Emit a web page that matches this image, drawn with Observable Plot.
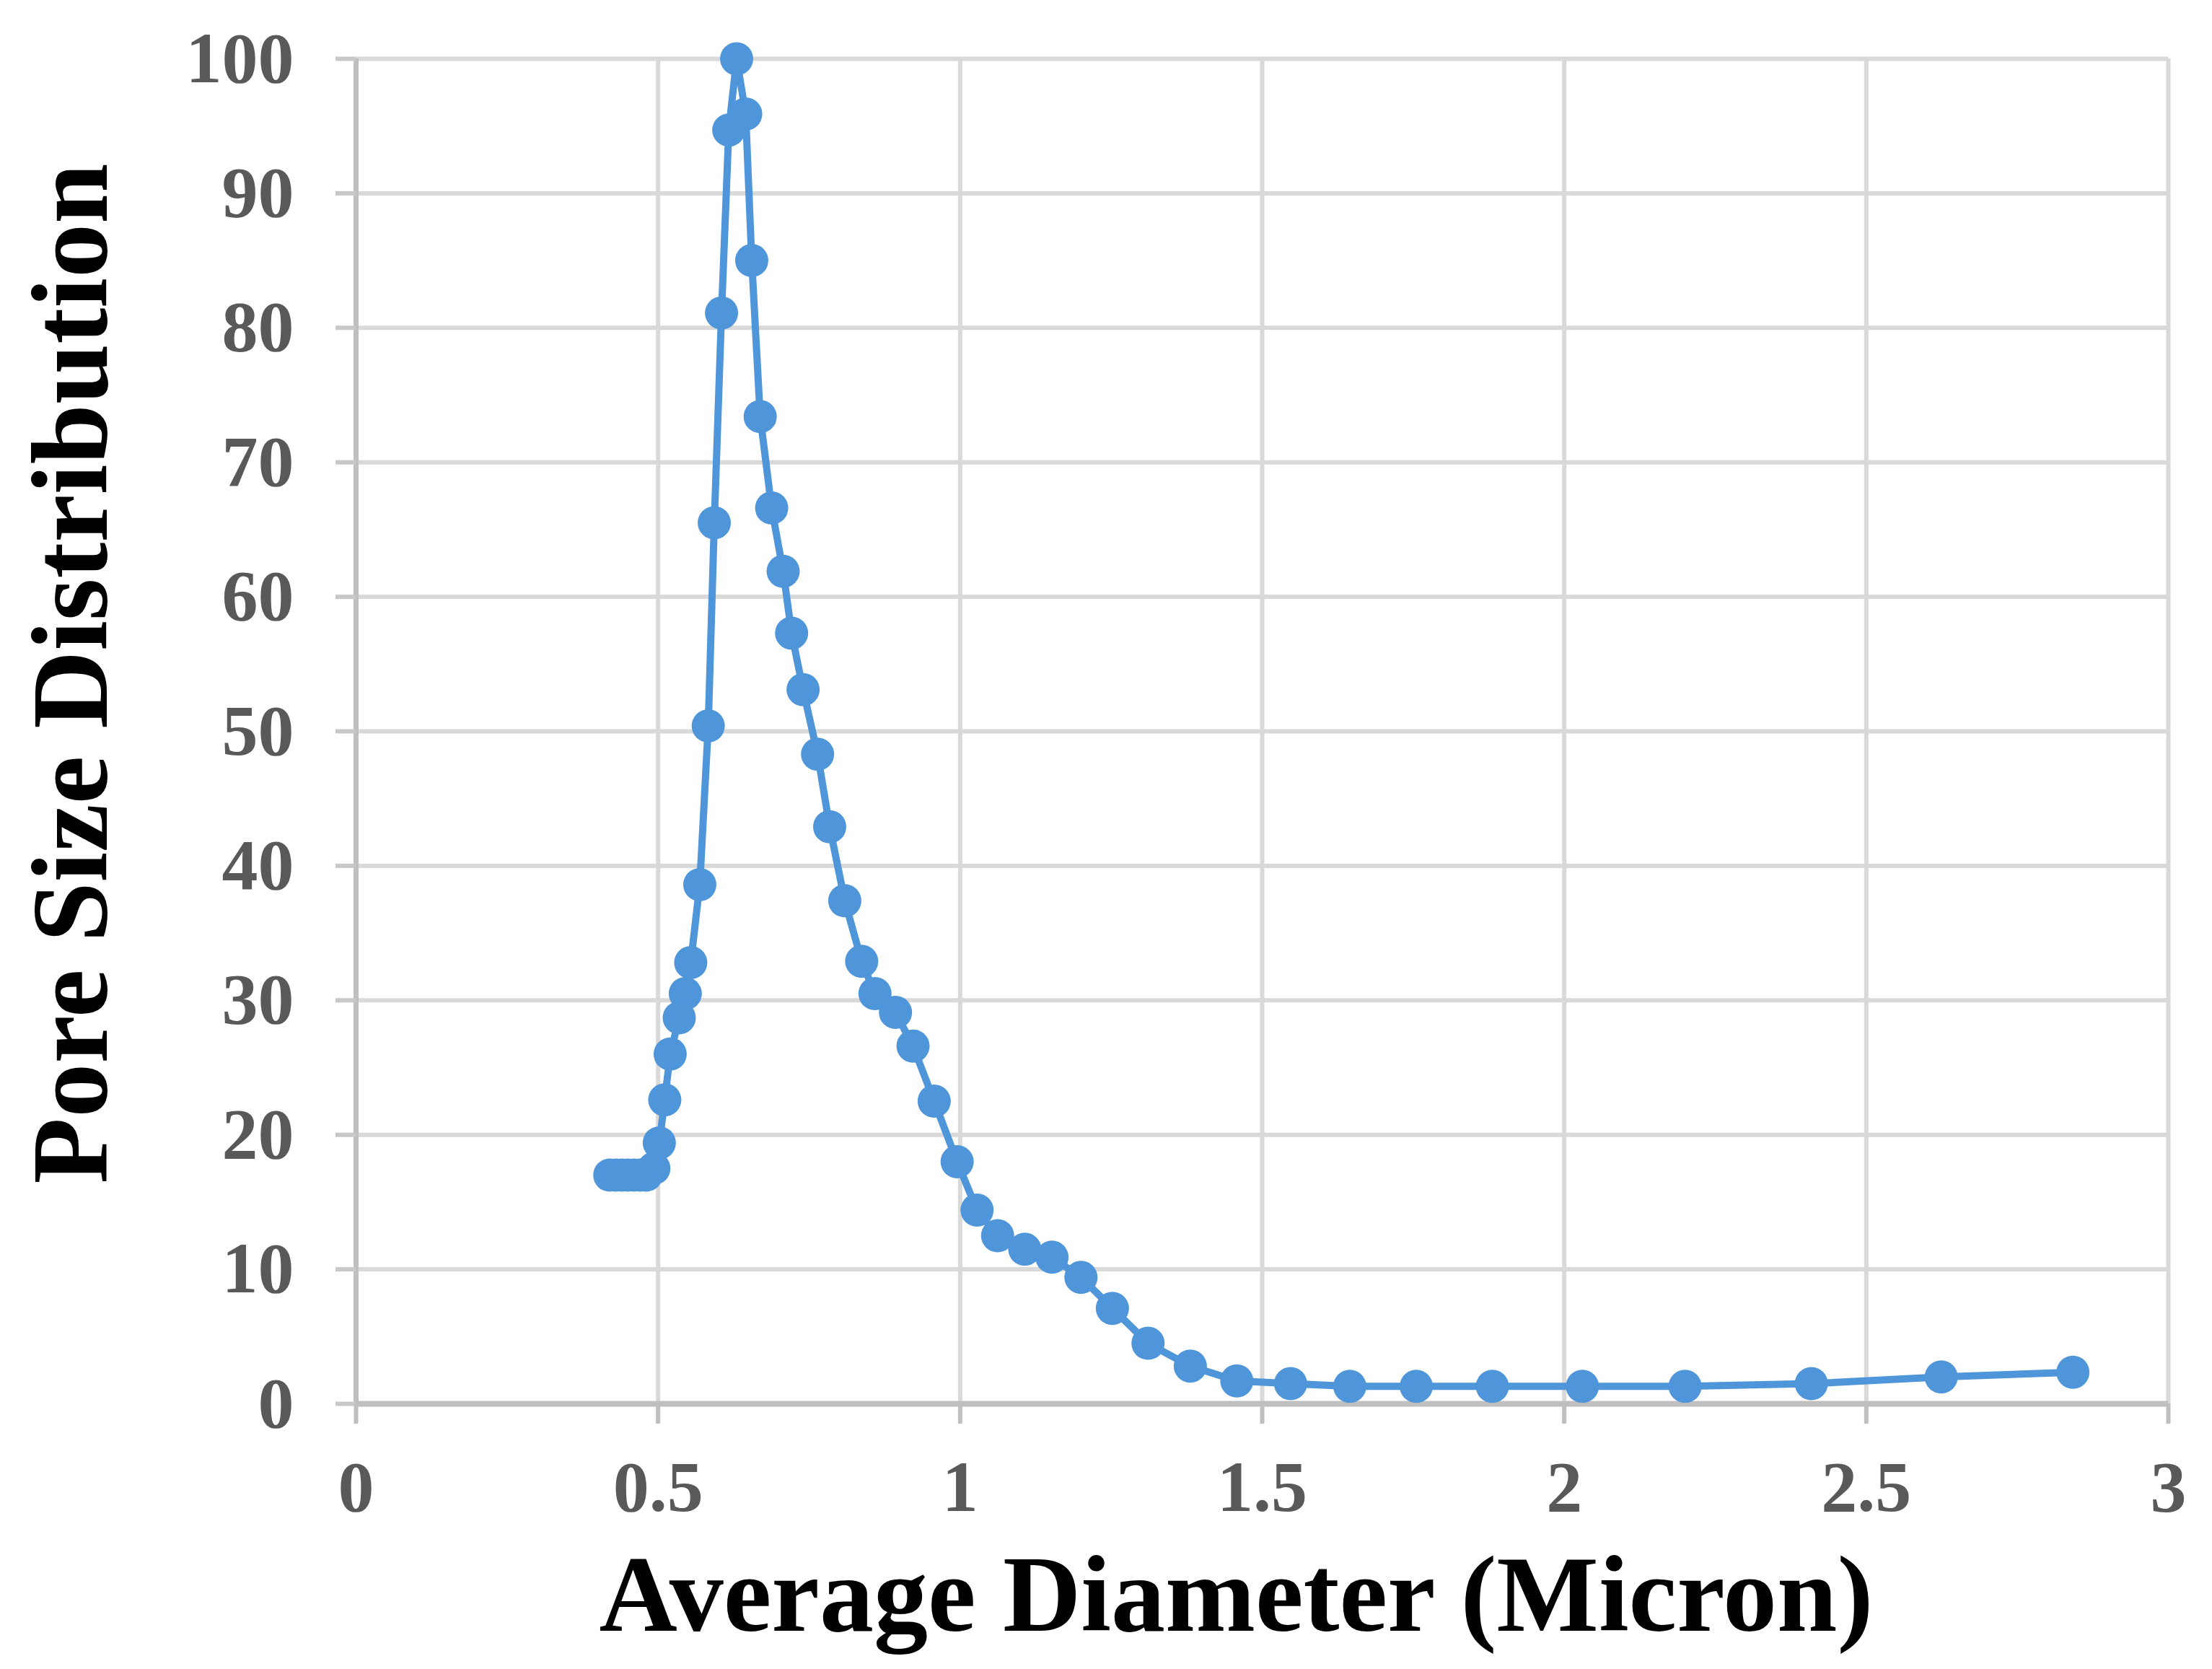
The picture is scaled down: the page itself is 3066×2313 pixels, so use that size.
<!DOCTYPE html>
<html>
<head>
<meta charset="utf-8">
<script src="https://cdn.jsdelivr.net/npm/d3@7"></script>
<script src="https://cdn.jsdelivr.net/npm/@observablehq/plot@0.6"></script>
<style>
  html, body { margin: 0; padding: 0; background: #fff; }
  #chart svg { display: block; }
</style>
</head>
<body>
<div id="chart"></div>
<script>
// Average diameter (micron)
const diameter = [
  0.420, 0.430, 0.440, 0.450, 0.460, 0.470, 0.480, 0.493,
  0.502, 0.511, 0.520, 0.535, 0.545, 0.554, 0.569, 0.583,
  0.593, 0.605, 0.617, 0.630, 0.645, 0.655, 0.669, 0.688,
  0.707, 0.721, 0.740, 0.764, 0.784, 0.809, 0.837, 0.859,
  0.893, 0.922, 0.957, 0.995, 1.028, 1.062, 1.107, 1.152,
  1.200, 1.252, 1.311, 1.381, 1.458, 1.547, 1.645, 1.755,
  1.881, 2.030, 2.200, 2.409, 2.624, 2.842
];
// Pore size distribution
const psd = [
  17.0, 17.0, 17.0, 17.0, 17.0, 17.0, 17.0, 17.5,
  19.4, 22.6, 26.0, 28.7, 30.5, 32.8, 38.6, 50.4,
  65.5, 81.1, 94.7, 100.0, 95.9, 85.0, 73.4, 66.6,
  61.9, 57.3, 53.1, 48.3, 42.9, 37.4, 32.9, 30.5,
  29.1, 26.6, 22.5, 18.0, 14.4, 12.5, 11.5, 10.9,
  9.4, 7.1, 4.5, 2.8, 1.7, 1.5, 1.3, 1.3,
  1.3, 1.3, 1.3, 1.5, 2.0, 2.35
];
const xTicks = [0, 0.5, 1, 1.5, 2, 2.5, 3];
const yTicks = [0, 10, 20, 30, 40, 50, 60, 70, 80, 90, 100];
const xTitle = "Average Diameter (Micron)";
const yTitle = "Pore Size Distribution";

const data = diameter.map((d, i) => ({x: d, y: psd[i]}));
const blue = "#4f95d9";
const serif = "Liberation Serif, Times New Roman, serif";

const chart = Plot.plot({
  width: 3066,
  height: 2313,
  marginLeft: 493,
  marginRight: 61,
  marginTop: 81,
  marginBottom: 368,
  style: {background: "white", fontFamily: serif},
  x: {domain: [0, 3], ticks: xTicks},
  y: {domain: [0, 100], ticks: yTicks},
  marks: [
    Plot.gridY(yTicks.filter(d => d > 0), {stroke: "#d9d9d9", strokeOpacity: 1, strokeWidth: 6}),
    Plot.gridX(xTicks.filter(d => d > 0), {stroke: "#d9d9d9", strokeOpacity: 1, strokeWidth: 6}),
    Plot.ruleX([0], {stroke: "#bfbfbf", strokeWidth: 7}),
    Plot.axisY(yTicks, {
      label: null, tickSize: 28, tickPadding: 58, stroke: "#c8c8c8", strokeWidth: 6,
      fill: "#595959", fontSize: 100, fontWeight: 700, fontFamily: serif,
      tickFormat: d => String(d)
    }),
    Plot.axisX(xTicks, {
      label: null, tickSize: 28, tickPadding: 49, stroke: "#bfbfbf", strokeWidth: 6,
      fill: "#595959", fontSize: 100, fontWeight: 700, fontFamily: serif,
      tickFormat: d => String(d)
    }),
    Plot.ruleY([0], {stroke: "#bfbfbf", strokeWidth: 8}),
    Plot.line(data, {x: "x", y: "y", stroke: blue, strokeWidth: 10}),
    Plot.dot(data, {x: "x", y: "y", r: 23, fill: blue, stroke: "none"}),
    Plot.text([yTitle], {
      frameAnchor: "left", rotate: -90, dx: -346, dy: -80,
      textAnchor: "middle", lineAnchor: "bottom",
      fontSize: 150, fontWeight: 700, fontFamily: serif, fill: "black"
    }),
    Plot.text([xTitle], {
      frameAnchor: "bottom", dx: -36, dy: 314,
      textAnchor: "middle", lineAnchor: "bottom",
      fontSize: 150, fontWeight: 700, fontFamily: serif, fill: "black"
    })
  ]
});

document.getElementById("chart").appendChild(chart);
</script>
</body>
</html>
